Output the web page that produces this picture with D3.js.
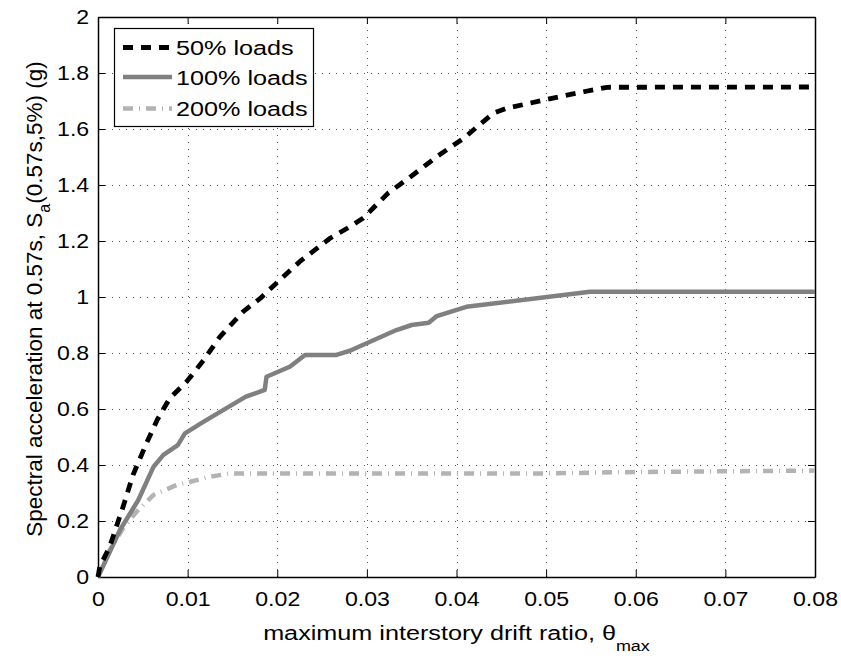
<!DOCTYPE html>
<html>
<head>
<meta charset="utf-8">
<script src="https://cdn.jsdelivr.net/npm/d3@7"></script>
<style>
  html, body { margin: 0; padding: 0; background: #fff; }
  text { font-family: "Liberation Sans", Arial, Helvetica, sans-serif; fill: #000; }
</style>
</head>
<body>
<svg id="chart" width="841" height="656"></svg>
<script>
// ---- data ----
const xTicks = [0, 0.01, 0.02, 0.03, 0.04, 0.05, 0.06, 0.07, 0.08];
const xTickLabels = ["0", "0.01", "0.02", "0.03", "0.04", "0.05", "0.06", "0.07", "0.08"];
const yTicks = [0, 0.2, 0.4, 0.6, 0.8, 1, 1.2, 1.4, 1.6, 1.8, 2];
const yTickLabels = ["0", "0.2", "0.4", "0.6", "0.8", "1", "1.2", "1.4", "1.6", "1.8", "2"];

const seriesNames = ["50% loads", "100% loads", "200% loads"];

const drift50 = [0, 0.0002, 0.0013, 0.0028, 0.0039, 0.0054, 0.0066, 0.008, 0.0099, 0.0118, 0.0136, 0.0162, 0.0181, 0.0199, 0.0225, 0.0259, 0.0281, 0.0296, 0.0324, 0.0344, 0.0378, 0.0408, 0.0423, 0.0441, 0.0456, 0.0501, 0.0542, 0.0568, 0.08];
const sa50 = [0, 0.037, 0.108, 0.251, 0.364, 0.477, 0.561, 0.638, 0.698, 0.775, 0.858, 0.948, 0.995, 1.049, 1.126, 1.21, 1.251, 1.282, 1.372, 1.418, 1.501, 1.567, 1.608, 1.656, 1.674, 1.706, 1.733, 1.749, 1.75];

const drift100 = [0, 0.00245, 0.0045, 0.0062, 0.0073, 0.0089, 0.0097, 0.0118, 0.0165, 0.0186, 0.0188, 0.0214, 0.0231, 0.0266, 0.0281, 0.0333, 0.035, 0.0369, 0.0378, 0.0411, 0.0549, 0.08];
const sa100 = [0, 0.168, 0.275, 0.394, 0.436, 0.471, 0.513, 0.555, 0.644, 0.668, 0.715, 0.751, 0.793, 0.793, 0.808, 0.882, 0.9, 0.908, 0.932, 0.965, 1.019, 1.019];

const drift200 = [0, 0.0013, 0.0028, 0.0043, 0.0062, 0.0088, 0.0103, 0.0125, 0.0147, 0.05, 0.06, 0.08];
const sa200 = [0, 0.096, 0.174, 0.233, 0.293, 0.329, 0.34, 0.358, 0.37, 0.37, 0.375, 0.38];

// ---- layout ----
const svg = d3.select("#chart");
const L = 98, R = 815, T = 17, B = 577;
const x = d3.scaleLinear().domain([0, 0.08]).range([L, R]);
const y = d3.scaleLinear().domain([0, 2]).range([B, T]);
const FS = 21;

// grid
const grid = svg.append("g").attr("stroke", "#555").attr("stroke-width", 1).attr("stroke-dasharray", "1,6");
grid.selectAll("line.gx").data(xTicks.slice(1, -1)).join("line")
  .attr("x1", d => Math.round(x(d)) + 0.5).attr("x2", d => Math.round(x(d)) + 0.5)
  .attr("y1", B).attr("y2", T);
grid.selectAll("line.gy").data(yTicks.slice(1, -1)).join("line")
  .attr("y1", d => Math.round(y(d)) + 0.5).attr("y2", d => Math.round(y(d)) + 0.5)
  .attr("x1", L).attr("x2", R);

// axes with inward ticks
const axB = d3.axisBottom(x).tickValues(xTicks).tickFormat((d, i) => xTickLabels[i]).tickSizeInner(-7).tickSizeOuter(0).tickPadding(14);
const axT = d3.axisTop(x).tickValues(xTicks).tickFormat("").tickSizeInner(-7).tickSizeOuter(0);
const axL = d3.axisLeft(y).tickValues(yTicks).tickFormat((d, i) => yTickLabels[i]).tickSizeInner(-7).tickSizeOuter(0).tickPadding(8);
const axR = d3.axisRight(y).tickValues(yTicks).tickFormat("").tickSizeInner(-7).tickSizeOuter(0);

function style(g) {
  g.selectAll("path.domain").attr("stroke", "#000").attr("stroke-width", 1.5);
  g.selectAll(".tick line").attr("stroke", "#000").attr("stroke-width", 1);
  g.selectAll(".tick text").attr("font-size", FS).attr("font-family", "Liberation Sans, Arial, sans-serif")
    .attr("fill", "#000").attr("transform", "scale(1.1,1)");
}
svg.append("g").attr("transform", `translate(0,${B})`).call(axB).call(style);
svg.append("g").attr("transform", `translate(0,${T})`).call(axT).call(style);
svg.append("g").attr("transform", `translate(${L},0)`).call(axL).call(style);
svg.append("g").attr("transform", `translate(${R},0)`).call(axR).call(style);

// lines
const line = d3.line().x(d => x(d[0])).y(d => y(d[1]));
const styles = [
  { stroke: "#000000", width: 4.8, dash: "10,8" },
  { stroke: "#808080", width: 4.5, dash: null },
  { stroke: "#b3b3b3", width: 4.5, dash: "10,6,1,6" }
];
const series = [d3.zip(drift50, sa50), d3.zip(drift100, sa100), d3.zip(drift200, sa200)];
const order = [2, 1, 0];
order.forEach(i => {
  svg.append("path").datum(series[i]).attr("d", line)
    .attr("fill", "none").attr("stroke", styles[i].stroke).attr("stroke-width", styles[i].width)
    .attr("stroke-dasharray", styles[i].dash).attr("stroke-linejoin", "round");
});

// legend
const lg = svg.append("g");
lg.append("rect").attr("x", 114.5).attr("y", 28.5).attr("width", 199).attr("height", 98)
  .attr("fill", "#fff").attr("stroke", "#000").attr("stroke-width", 1.2);
const legY = [47.5, 77, 108.5];
seriesNames.forEach((name, i) => {
  lg.append("line").attr("x1", 123).attr("x2", 172).attr("y1", legY[i]).attr("y2", legY[i])
    .attr("stroke", styles[i].stroke).attr("stroke-width", styles[i].width)
    .attr("stroke-dasharray", styles[i].dash);
  lg.append("text").attr("transform", `translate(176,${legY[i] + 7.5}) scale(1.2,1)`)
    .attr("font-size", FS).text(name);
});

// x label
const xl = svg.append("text").attr("transform", `translate(${(L + R) / 2},640) scale(1.2,1)`)
  .attr("text-anchor", "middle").attr("font-size", FS);
xl.append("tspan").text("maximum interstory drift ratio, θ");
xl.append("tspan").attr("font-size", 15).attr("dy", 11).text("max");

// y label
const yl = svg.append("text").attr("transform", `translate(42,${(T + B) / 2 + 2}) rotate(-90)`)
  .attr("text-anchor", "middle").attr("font-size", 22.5);
yl.append("tspan").text("Spectral acceleration at 0.57s, S");
yl.append("tspan").attr("font-size", 16).attr("dy", 8).text("a");
yl.append("tspan").attr("dy", -8).text("(0.57s,5%) (g)");
</script>
</body>
</html>
